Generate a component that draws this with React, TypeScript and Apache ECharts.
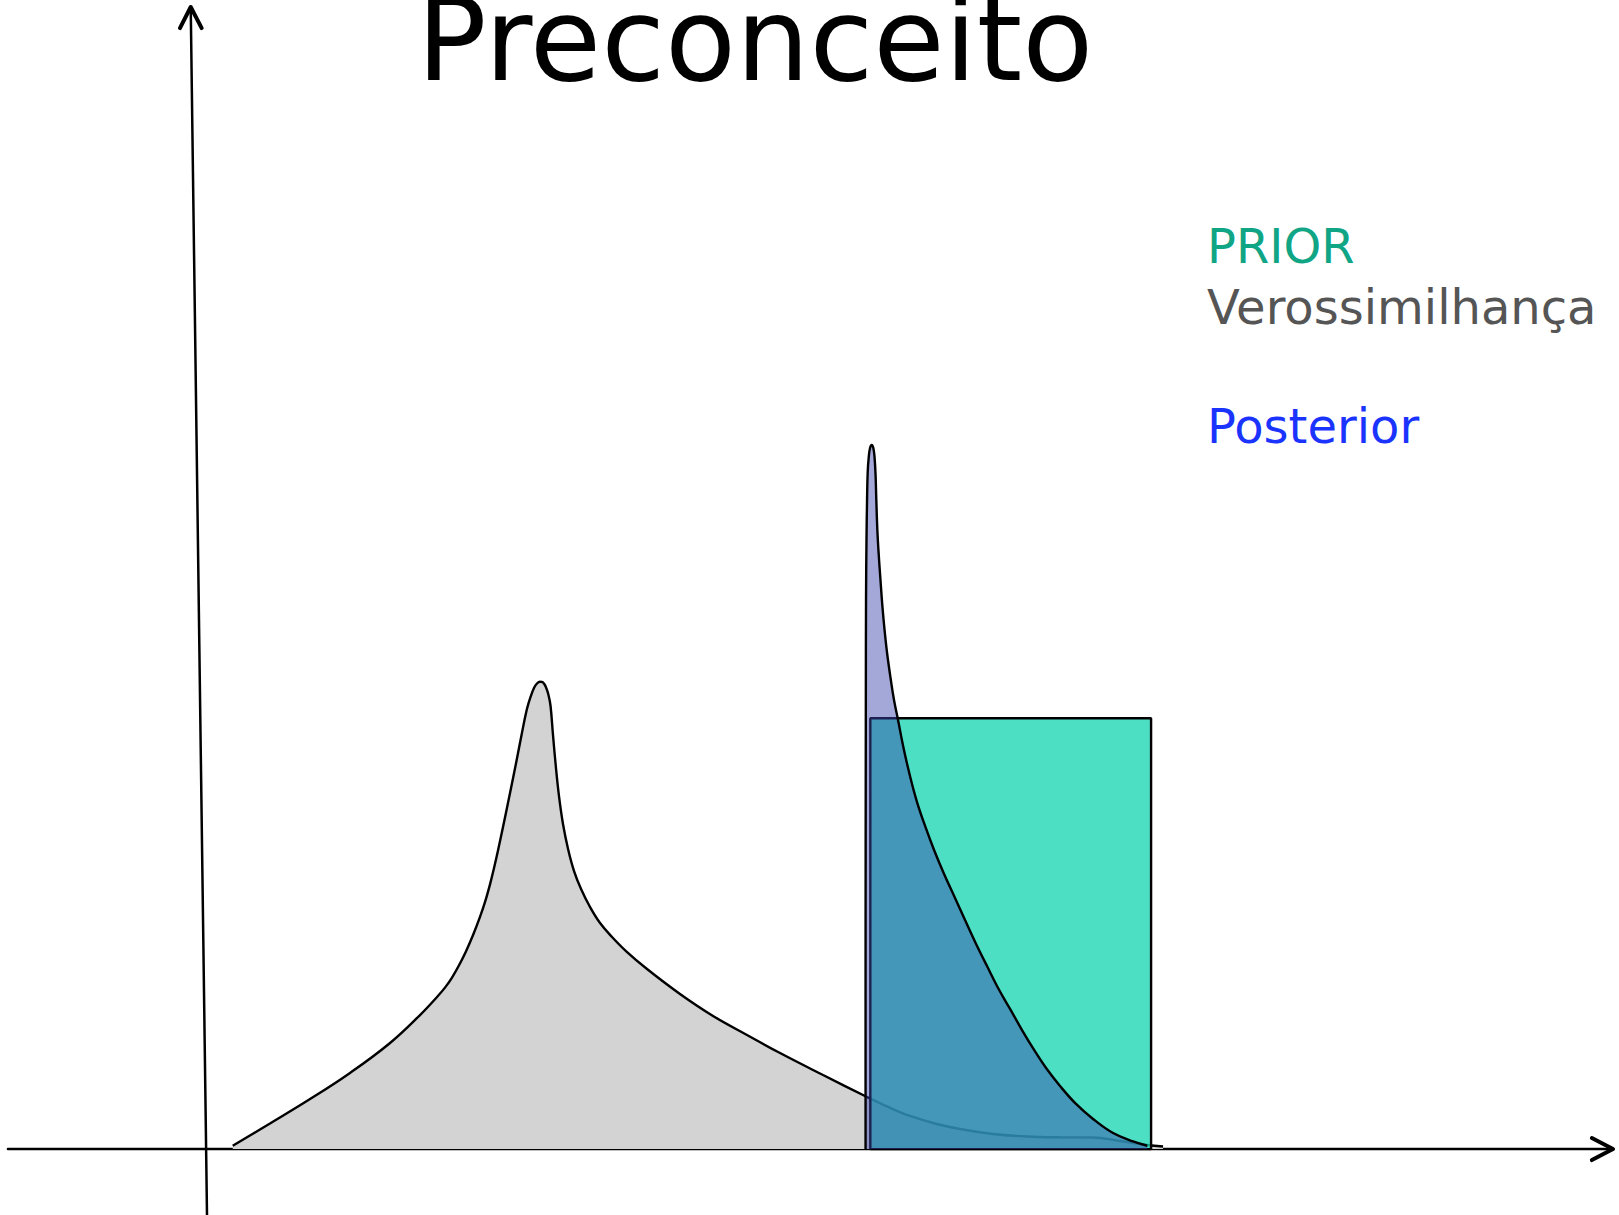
import React, { useEffect, useRef } from "react";
import * as echarts from "echarts";

// ---- Text ----
const TITLE = "Preconceito";
const LEGEND_LABELS = ["PRIOR", "Verossimilhança", "Posterior"];
const LEGEND_COLORS = ["#10a585", "#555555", "#1a33ff"];

// ---- Scales (data units) ----
const X_MIN = -0.23;
const X_MAX = 1.5;
const Y_MIN = -0.51;
const Y_MAX = 8.89;

// ---- Likelihood (Verossimilhança), grey ----
const likelihoodX = [0.0187, 0.0585, 0.1013, 0.144, 0.1868, 0.2188, 0.237, 0.2455, 0.253, 0.2605, 0.268, 0.2755, 0.2829, 0.2883, 0.2936, 0.2979, 0.3022, 0.3075, 0.315, 0.3221, 0.3273, 0.3328, 0.3369, 0.3406, 0.3438, 0.347, 0.3502, 0.3535, 0.3561, 0.3583, 0.3609, 0.3641, 0.3673, 0.3716, 0.377, 0.3834, 0.3909, 0.4005, 0.4112, 0.424, 0.4389, 0.4614, 0.4966, 0.5319, 0.5682, 0.6035, 0.6495, 0.6965, 0.7189, 0.7424, 0.7691, 0.7959, 0.8311, 0.8675, 0.9027, 0.938, 0.9668, 0.9957, 1.0128];
const likelihoodY = [0.026, 0.198, 0.387, 0.589, 0.821, 1.037, 1.177, 1.249, 1.327, 1.422, 1.531, 1.656, 1.796, 1.912, 2.048, 2.174, 2.312, 2.492, 2.755, 3.01, 3.204, 3.397, 3.498, 3.567, 3.602, 3.616, 3.61, 3.571, 3.513, 3.428, 3.204, 2.948, 2.732, 2.515, 2.322, 2.151, 2.012, 1.873, 1.749, 1.641, 1.532, 1.393, 1.2, 1.03, 0.883, 0.743, 0.573, 0.403, 0.326, 0.256, 0.198, 0.155, 0.117, 0.097, 0.091, 0.09, 0.0625, 0.032, 0.02];

// ---- Prior (uniform on [0.7, 1.0]) ----
const priorX = [0.7, 0.7, 1.0, 1.0, 0.7];
const priorY = [0, 3.333, 3.333, 0, 0];

// ---- Posterior ----
const posteriorX = [0.6949, 0.6949, 0.695, 0.6952, 0.6954, 0.6959, 0.6965, 0.6972, 0.6983, 0.6997, 0.7015, 0.7032, 0.7045, 0.7056, 0.7064, 0.7075, 0.709, 0.7107, 0.7128, 0.7152, 0.7179, 0.7216, 0.7253, 0.7296, 0.7355, 0.7424, 0.7499, 0.7585, 0.7681, 0.7788, 0.7905, 0.8012, 0.813, 0.8247, 0.8365, 0.8493, 0.8621, 0.875, 0.8878, 0.9027, 0.9198, 0.938, 0.9594, 0.9807, 0.996];
const posteriorY = [0, 1.153, 2.314, 3.474, 4.248, 4.712, 5.022, 5.238, 5.354, 5.424, 5.447, 5.424, 5.354, 5.215, 5.022, 4.79, 4.596, 4.418, 4.209, 4.016, 3.838, 3.645, 3.474, 3.32, 3.103, 2.886, 2.685, 2.5, 2.314, 2.128, 1.943, 1.772, 1.587, 1.416, 1.246, 1.084, 0.921, 0.767, 0.627, 0.488, 0.349, 0.233, 0.124, 0.059, 0.026];

// ---- Hand-drawn axes with arrow heads ----
const xAxisLineX = [-0.2215, 1.4936];
const xAxisLineY = [0, 0];
const xArrowX = [1.471, 1.4936, 1.471];
const xArrowY = [0.085, 0, -0.085];
const yAxisLineX = [-0.0088, -0.0262];
const yAxisLineY = [-0.51, 8.836];
const yArrowX = [-0.0377, -0.0262, -0.0145];
const yArrowY = [8.673, 8.836, 8.673];

const zip = (xs: number[], ys: number[]) => xs.map((x, i) => [x, ys[i]]);

export default function App() {
  const ref = useRef<HTMLDivElement>(null);

  useEffect(() => {
    if (!ref.current) return;
    const chart = echarts.init(ref.current, undefined, { renderer: "svg" });

    const axisSeries = (name: string, xs: number[], ys: number[], width: number) => ({
      name,
      type: "line",
      data: zip(xs, ys),
      symbol: "none",
      silent: true,
      lineStyle: { color: "#000", width, cap: "round", join: "round" },
      z: 1,
    });

    const legendY = [246, 307, 426];
    const legendGraphics = LEGEND_LABELS.map((label, i) => ({
      type: "text",
      x: 1207,
      y: legendY[i],
      style: {
        text: label,
        fill: LEGEND_COLORS[i],
        font: "48px 'DejaVu Sans'",
        textAlign: "left",
        textVerticalAlign: "middle",
      },
    }));

    chart.setOption({
      animation: false,
      backgroundColor: "#ffffff",
      grid: { left: 0, right: 0, top: 0, bottom: 0, containLabel: false },
      xAxis: { type: "value", min: X_MIN, max: X_MAX, show: false },
      yAxis: { type: "value", min: Y_MIN, max: Y_MAX, show: false },
      graphic: [
        {
          type: "text",
          x: 755,
          y: 39.5,
          style: {
            text: TITLE,
            fill: "#000",
            font: "116px 'DejaVu Sans'",
            textAlign: "center",
            textVerticalAlign: "middle",
          },
        },
        ...legendGraphics,
      ],
      series: [
        axisSeries("eixoX", xAxisLineX, xAxisLineY, 2.5),
        axisSeries("setaX", xArrowX, xArrowY, 4),
        axisSeries("eixoY", yAxisLineX, yAxisLineY, 2.5),
        axisSeries("setaY", yArrowX, yArrowY, 4),
        {
          name: "Verossimilhança",
          type: "line",
          data: zip(likelihoodX, likelihoodY),
          smooth: 0.4,
          symbol: "none",
          lineStyle: { color: "#000", width: 2.4 },
          areaStyle: { color: "#d3d3d3", opacity: 1 },
          z: 2,
        },
        {
          name: "PRIOR",
          type: "line",
          data: zip(priorX, priorY),
          smooth: false,
          symbol: "none",
          lineStyle: { color: "#000", width: 2.4 },
          areaStyle: { color: "rgba(32,215,181,0.8)", opacity: 1 },
          z: 3,
        },
        {
          name: "Posterior",
          type: "line",
          data: zip(posteriorX, posteriorY),
          smooth: 0.4,
          symbol: "none",
          lineStyle: { color: "#000", width: 2.4 },
          areaStyle: { color: "rgba(62,70,172,0.47)", opacity: 1 },
          z: 4,
        },
      ],
    });

    return () => chart.dispose();
  }, []);

  return (
    <div
      ref={ref}
      style={{ position: "fixed", left: 0, top: 0, width: 1619, height: 1215, background: "#fff" }}
    />
  );
}
